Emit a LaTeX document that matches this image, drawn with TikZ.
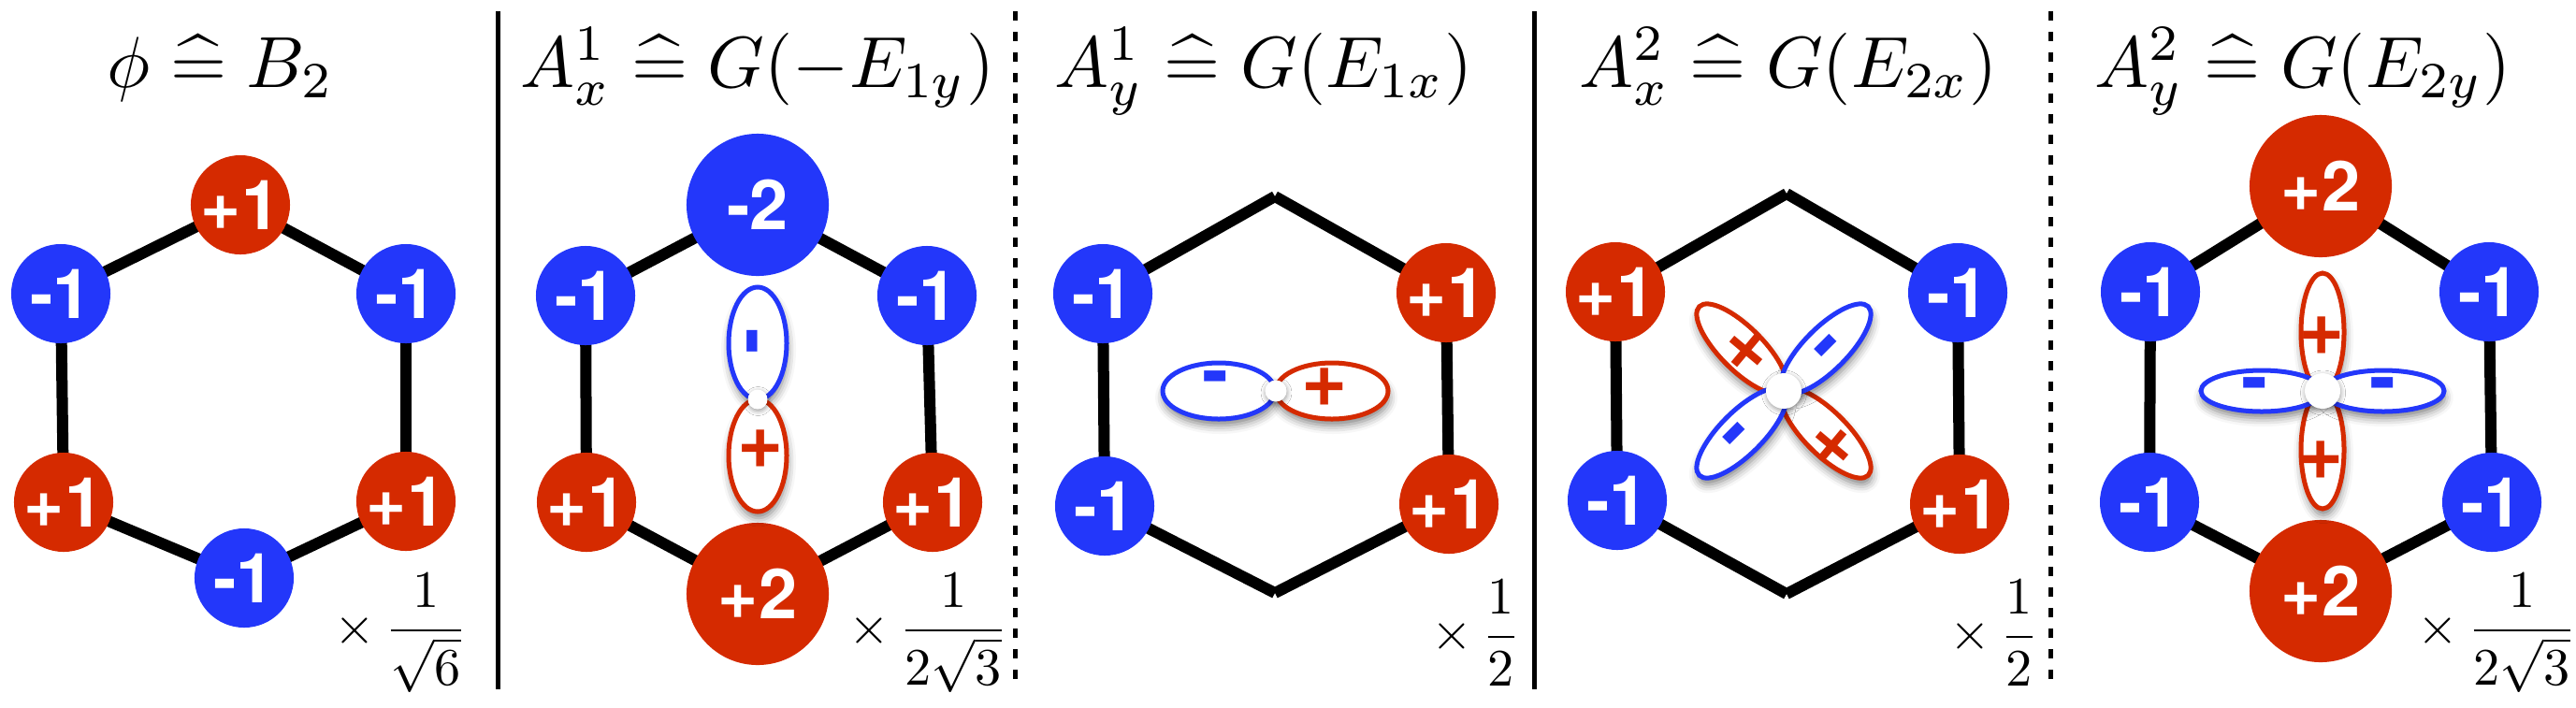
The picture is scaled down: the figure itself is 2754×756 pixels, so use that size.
\documentclass[tikz,border=0pt]{standalone}
\usepackage{amsmath}
\usepackage{graphicx}
\usepackage{fontspec}
\newfontfamily\hv{TeX Gyre Heros}
\usetikzlibrary{shadows.blur}
\definecolor{nblue}{RGB}{35,55,250}
\definecolor{nred}{RGB}{213,42,0}
\newcommand{\ttl}[1]{\scalebox{2.2}{$#1$}}
\newcommand{\fct}[1]{\scalebox{1.6}{$#1$}}
\tikzset{
 hexedge/.style={line width=0.12cm, line cap=butt},
 site/.style={circle, inner sep=0pt, minimum size=1.06cm, text=white, font=\hv\bfseries\fontsize{21}{21}\selectfont},
 bigsite/.style={site, minimum size=1.52cm},
 possite/.style={fill=nred}, negsite/.style={fill=nblue},
 titletext/.style={anchor=base, inner sep=0pt},
 factor/.style={anchor=west, inner sep=0pt},
 lobe/.style={line width=0.05cm, fill=white, blur shadow={shadow xshift=0.01cm, shadow yshift=-0.07cm, shadow blur radius=0.09cm, shadow opacity=50}},
 lobeblue/.style={lobe, draw=nblue}, lobered/.style={lobe, draw=nred},
 sign/.style={inner sep=0pt, font=\hv\bfseries\fontsize{24}{24}\selectfont},
 bsign/.style={sign, text=nblue}, rsign/.style={sign, text=nred},
 cdot/.style={circle, fill=white, inner sep=0pt, blur shadow={shadow xshift=0.005cm, shadow yshift=-0.02cm, shadow blur radius=0.05cm, shadow opacity=40}},
 solidsep/.style={line width=0.05cm},
 dotsep/.style={line width=0.05cm, dash pattern=on 0.1cm off 0.12cm},
}
\begin{document}
\begin{tikzpicture}[x=0.01cm, y=0.01cm]
\useasboundingbox (0,0) rectangle (2754,756);

% ---------- separators ----------
\coordinate (s1a) at (532,744); \coordinate (s1b) at (532,19);
\coordinate (s2a) at (1085,744); \coordinate (s2b) at (1085,19);
\coordinate (s3a) at (1640,744); \coordinate (s3b) at (1640,19);
\coordinate (s4a) at (2192,744); \coordinate (s4b) at (2192,19);
\draw[solidsep] (s1a) -- (s1b);
\draw[dotsep] (s2a) -- (s2b);
\draw[solidsep] (s3a) -- (s3b);
\draw[dotsep] (s4a) -- (s4b);

% ---------- panel 1 ----------
\node[titletext] (t1) at (236,663) {\ttl{\phi \mathrel{\widehat{=}} B_2}};
\coordinate (p1t) at (257,537); \coordinate (p1ur) at (434,442);
\coordinate (p1lr) at (434,220); \coordinate (p1b) at (261,138);
\coordinate (p1ll) at (68,219); \coordinate (p1ul) at (65,442);
\draw[hexedge] (p1t) -- (p1ur); \draw[hexedge] (p1ur) -- (p1lr);
\draw[hexedge] (p1lr) -- (p1b); \draw[hexedge] (p1b) -- (p1ll);
\draw[hexedge] (p1ll) -- (p1ul); \draw[hexedge] (p1ul) -- (p1t);
\node[site,possite] (n1t) at (p1t) {+1};
\node[site,negsite] (n1ur) at (p1ur) {-1};
\node[site,possite] (n1lr) at (p1lr) {+1};
\node[site,negsite] (n1b) at (p1b) {-1};
\node[site,possite] (n1ll) at (p1ll) {+1};
\node[site,negsite] (n1ul) at (p1ul) {-1};
\node[factor] (f1) at (357,79) {\fct{\times\,\dfrac{1}{\sqrt{6}}}};

% ---------- panel 2 ----------
\node[titletext] (t2) at (810,663) {\ttl{A^1_x \mathrel{\widehat{=}} G(-E_{1y})}};
\coordinate (p2t) at (810,537); \coordinate (p2ur) at (991,440);
\coordinate (p2lr) at (997,219); \coordinate (p2b) at (810,121);
\coordinate (p2ll) at (627,219); \coordinate (p2ul) at (626,440);
\draw[hexedge] (p2t) -- (p2ur); \draw[hexedge] (p2ur) -- (p2lr);
\draw[hexedge] (p2lr) -- (p2b); \draw[hexedge] (p2b) -- (p2ll);
\draw[hexedge] (p2ll) -- (p2ul); \draw[hexedge] (p2ul) -- (p2t);
\node[bigsite,negsite] (n2t) at (p2t) {-2};
\node[site,negsite] (n2ur) at (p2ur) {-1};
\node[site,possite] (n2lr) at (p2lr) {+1};
\node[bigsite,possite] (n2b) at (p2b) {+2};
\node[site,possite] (n2ll) at (p2ll) {+1};
\node[site,negsite] (n2ul) at (p2ul) {-1};
\draw[lobeblue] (810,389) ellipse [x radius=31, y radius=60];
\draw[lobered] (810,269) ellipse [x radius=31, y radius=60];
\node[bsign, rotate=90] (g2a) at (813,392) {-};
\node[rsign] (g2b) at (813,276) {+};
\node[cdot, minimum size=0.21cm] (c2) at (810,329) {};
\node[factor] (f2) at (907,79) {\fct{\times\,\dfrac{1}{2\sqrt{3}}}};

% ---------- panel 3 ----------
\node[titletext] (t3) at (1351,663) {\ttl{A^1_y \mathrel{\widehat{=}} G(E_{1x})}};
\coordinate (p3t) at (1363,546); \coordinate (p3ur) at (1546,443);
\coordinate (p3lr) at (1549,217); \coordinate (p3b) at (1363,122);
\coordinate (p3ll) at (1181,215); \coordinate (p3ul) at (1179,442);
\draw[hexedge] (p3t) -- (p3ur); \draw[hexedge] (p3ur) -- (p3lr);
\draw[hexedge] (p3lr) -- (p3b); \draw[hexedge] (p3b) -- (p3ll);
\draw[hexedge] (p3ll) -- (p3ul); \draw[hexedge] (p3ul) -- (p3t);
\node[site,possite] (n3ur) at (p3ur) {+1};
\node[site,possite] (n3lr) at (p3lr) {+1};
\node[site,negsite] (n3ll) at (p3ll) {-1};
\node[site,negsite] (n3ul) at (p3ul) {-1};
\draw[lobeblue] (1303,338) ellipse [x radius=60, y radius=30];
\draw[lobered] (1424,338) ellipse [x radius=60, y radius=30];
\node[bsign] (g3a) at (1300,345) {-};
\node[rsign] (g3b) at (1416,342) {+};
\node[cdot, minimum size=0.23cm] (c3) at (1364,338) {};
\node[factor] (f3) at (1530,79) {\fct{\times\,\dfrac{1}{2}}};

% ---------- panel 4 ----------
\node[titletext] (t4) at (1912,663) {\ttl{A^2_x \mathrel{\widehat{=}} G(E_{2x})}};
\coordinate (p4t) at (1910,549); \coordinate (p4ur) at (2093,443);
\coordinate (p4lr) at (2095,217); \coordinate (p4b) at (1910,121);
\coordinate (p4ll) at (1729,221); \coordinate (p4ul) at (1727,444);
\draw[hexedge] (p4t) -- (p4ur); \draw[hexedge] (p4ur) -- (p4lr);
\draw[hexedge] (p4lr) -- (p4b); \draw[hexedge] (p4b) -- (p4ll);
\draw[hexedge] (p4ll) -- (p4ul); \draw[hexedge] (p4ul) -- (p4t);
\node[site,negsite] (n4ur) at (p4ur) {-1};
\node[site,possite] (n4lr) at (p4lr) {+1};
\node[site,negsite] (n4ll) at (p4ll) {-1};
\node[site,possite] (n4ul) at (p4ul) {+1};
\draw[lobered] (1862,383) ellipse [x radius=64, y radius=23, rotate=-45];
\draw[lobered] (1952,293) ellipse [x radius=64, y radius=23, rotate=-45];
\draw[lobeblue] (1952,383) ellipse [x radius=64, y radius=23, rotate=45];
\draw[lobeblue] (1862,293) ellipse [x radius=64, y radius=23, rotate=45];
\node[rsign, rotate=-40] (g4a) at (1866,380) {+};
\node[rsign, rotate=-40] (g4b) at (1958,278) {+};
\node[bsign, rotate=45] (g4c) at (1958,381) {-};
\node[bsign, rotate=45] (g4d) at (1860,287) {-};
\node[cdot, minimum size=0.38cm] (c4) at (1907,338) {};
\node[factor] (f4) at (2084,79) {\fct{\times\,\dfrac{1}{2}}};

% ---------- panel 5 ----------
\node[titletext] (t5) at (2462,663) {\ttl{A^2_y \mathrel{\widehat{=}} G(E_{2y})}};
\coordinate (p5t) at (2481,557); \coordinate (p5ur) at (2661,444);
\coordinate (p5lr) at (2664,219); \coordinate (p5b) at (2481,124);
\coordinate (p5ll) at (2298,219); \coordinate (p5ul) at (2299,444);
\draw[hexedge] (p5t) -- (p5ur); \draw[hexedge] (p5ur) -- (p5lr);
\draw[hexedge] (p5lr) -- (p5b); \draw[hexedge] (p5b) -- (p5ll);
\draw[hexedge] (p5ll) -- (p5ul); \draw[hexedge] (p5ul) -- (p5t);
\node[bigsite,possite] (n5t) at (p5t) {+2};
\node[site,negsite] (n5ur) at (p5ur) {-1};
\node[site,negsite] (n5lr) at (p5lr) {-1};
\node[bigsite,possite] (n5b) at (p5b) {+2};
\node[site,negsite] (n5ll) at (p5ll) {-1};
\node[site,negsite] (n5ul) at (p5ul) {-1};
\draw[lobered] (2483,401) ellipse [x radius=23, y radius=63];
\draw[lobered] (2483,275) ellipse [x radius=23, y radius=63];
\draw[lobeblue] (2418,338) ellipse [x radius=65, y radius=22];
\draw[lobeblue] (2548,338) ellipse [x radius=65, y radius=22];
\node[rsign] (g5a) at (2482,397) {+};
\node[rsign] (g5b) at (2481,264) {+};
\node[bsign] (g5c) at (2411,338) {-};
\node[bsign] (g5d) at (2548,338) {-};
\node[cdot, minimum size=0.38cm] (c5) at (2483,338) {};
\node[factor] (f5) at (2584,79) {\fct{\times\,\dfrac{1}{2\sqrt{3}}}};
\end{tikzpicture}
\end{document}
